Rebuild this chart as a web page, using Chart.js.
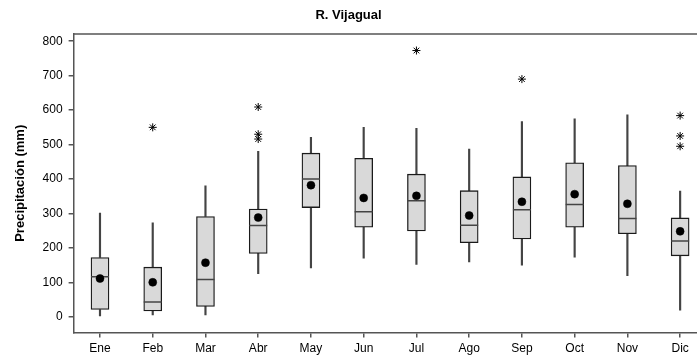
<!DOCTYPE html>
<html>
<head>
<meta charset="utf-8">
<script src="https://cdn.jsdelivr.net/npm/chart.js@4"></script>
<style>
  html, body { margin: 0; padding: 0; background: #fff; overflow: hidden; }
  #wrap { width: 697px; height: 360px; overflow: hidden; }
</style>
</head>
<body>
<div id="wrap"><canvas id="boxChart" width="717" height="360"></canvas></div>
<script>
const months = ['Ene', 'Feb', 'Mar', 'Abr', 'May', 'Jun', 'Jul', 'Ago', 'Sep', 'Oct', 'Nov', 'Dic'];
const whiskerLow = [0, 5, 5, 125, 142, 170, 152, 159, 150, 173, 119, 19];
const q1 = [21, 17, 30, 184, 317, 260, 249, 215, 226, 260, 241, 177];
const median = [116, 43, 108, 265, 400, 305, 337, 266, 311, 326, 285, 220];
const q3 = [172, 144, 291, 313, 475, 460, 414, 366, 406, 447, 439, 287];
const whiskerHigh = [301, 273, 380, 480, 521, 550, 547, 487, 567, 575, 586, 365];
const means = [111, 100, 157, 288, 382, 345, 351, 294, 334, 356, 328, 248];
const outlierMonths = ['Feb', 'Abr', 'Abr', 'Abr', 'Jul', 'Sep', 'Dic', 'Dic', 'Dic'];
const outlierValues = [550, 609, 530, 516, 773, 690, 584, 525, 495];
const yTicks = [0, 100, 200, 300, 400, 500, 600, 700, 800];
const chartTitle = 'R. Vijagual';

const FONT = 'Liberation Sans, Arial, sans-serif';
const VISIBLE_WIDTH = 697; // the canvas is wider, the right part is cut off

// top frame line and the title (centred on the visible part)
const frameAndTitle = {
    id: 'frameAndTitle',
    afterDraw(chart) {
        const a = chart.chartArea;
        const c = chart.ctx;
        c.save();
        c.strokeStyle = '#555';
        c.lineWidth = 1.5;
        c.beginPath();
        c.moveTo(a.left, a.top);
        c.lineTo(a.right, a.top);
        c.stroke();
        c.fillStyle = '#000';
        c.font = 'bold 13px ' + FONT;
        c.textAlign = 'center';
        c.textBaseline = 'middle';
        c.fillText(chartTitle, VISIBLE_WIDTH / 2, 15);
        c.restore();
    }
};

const ctx = document.getElementById('boxChart').getContext('2d');
new Chart(ctx, {
    type: 'bar',
    data: {
        labels: months,
        datasets: [
            {
                label: 'lower whisker',
                data: months.map((m, i) => [whiskerLow[i], q1[i]]),
                backgroundColor: '#444',
                borderWidth: 0,
                barThickness: 1.5,
                grouped: false,
                order: 6
            },
            {
                label: 'upper whisker',
                data: months.map((m, i) => [q3[i], whiskerHigh[i]]),
                backgroundColor: '#444',
                borderWidth: 0,
                barThickness: 1.5,
                grouped: false,
                order: 6
            },
            {
                label: 'box',
                data: months.map((m, i) => [q1[i], q3[i]]),
                backgroundColor: '#d9d9d9',
                borderColor: '#1a1a1a',
                borderWidth: 1.3,
                borderSkipped: false,
                barThickness: 18,
                grouped: false,
                order: 5
            },
            {
                type: 'line',
                label: 'median',
                data: median,
                showLine: false,
                pointStyle: 'line',
                pointRadius: 9,
                pointBorderColor: '#444',
                pointBorderWidth: 1.5,
                order: 3
            },
            {
                type: 'line',
                label: 'mean',
                data: means,
                showLine: false,
                pointStyle: 'circle',
                pointRadius: 4,
                pointBackgroundColor: '#000',
                pointBorderColor: '#000',
                pointBorderWidth: 0.5,
                order: 2
            },
            {
                type: 'line',
                label: 'outliers',
                data: outlierMonths.map((m, i) => ({x: m, y: outlierValues[i]})),
                showLine: false,
                pointStyle: 'star',
                pointRadius: 4,
                pointBorderColor: '#000',
                pointBorderWidth: 1,
                order: 1
            }
        ]
    },
    options: {
        responsive: false,
        animation: false,
        devicePixelRatio: 1,
        layout: {padding: {left: 13, right: 0, top: 34, bottom: 0}},
        plugins: {
            legend: {display: false},
            tooltip: {enabled: false},
            title: {display: false}
        },
        scales: {
            x: {
                type: 'category',
                offset: true,
                grid: {display: true, drawOnChartArea: false, drawTicks: true, tickLength: 5, offset: false, color: '#555', lineWidth: 1.5},
                border: {display: true, color: '#555', width: 1.5},
                ticks: {color: '#000', font: {family: FONT, size: 12}, padding: 4, maxRotation: 0}
            },
            y: {
                min: -46,
                max: 821,
                afterBuildTicks: axis => { axis.ticks = yTicks.map(v => ({value: v})); },
                grid: {display: true, drawOnChartArea: false, drawTicks: true, tickLength: 5, color: '#555', lineWidth: 1.5},
                border: {display: true, color: '#555', width: 1.5},
                ticks: {color: '#000', font: {family: FONT, size: 12}, padding: 6},
                title: {
                    display: true,
                    text: 'Precipitación (mm)',
                    color: '#000',
                    font: {family: FONT, size: 13, weight: 'bold'},
                    padding: {top: 0, bottom: 8}
                }
            }
        }
    },
    plugins: [frameAndTitle]
});
</script>
</body>
</html>
